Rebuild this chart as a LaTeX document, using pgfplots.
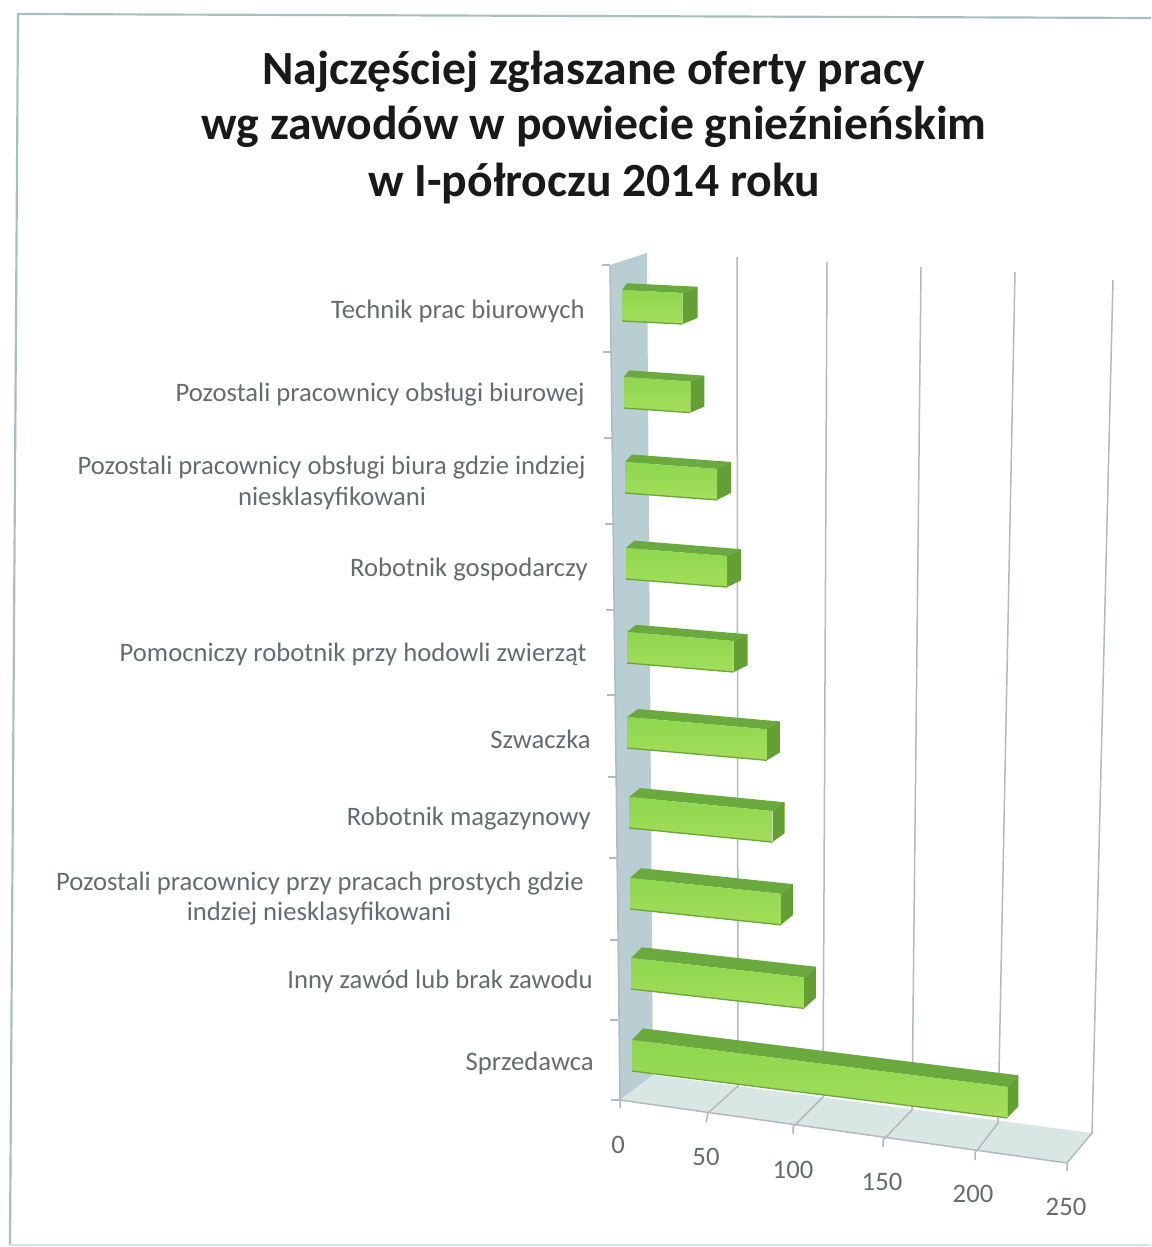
\documentclass[border=0pt]{standalone}
\usepackage{fontspec}
\setmainfont{Carlito}
\usepackage{pgfplots}
\pgfplotsset{compat=1.18}

\definecolor{wallc}{HTML}{B9CED2}
\definecolor{floorc}{HTML}{D8E7E3}
\definecolor{gridc}{HTML}{B3B9BC}
\definecolor{framec}{HTML}{A8BFBD}
\definecolor{labelc}{HTML}{666C6E}
\definecolor{barT}{HTML}{8FD64F}
\definecolor{barB}{HTML}{A3DE5A}
\definecolor{barTop}{HTML}{69A93D}
\definecolor{barEnd}{HTML}{639F33}
\definecolor{barLine}{HTML}{6AA63A}

% one image pixel in pt
\def\ux{0.6}

\pgfplotsset{
  page/.style={
    hide axis, scale only axis, clip=false, y dir=reverse,
    width=1151*\ux pt, height=1247*\ux pt, ymin=0, ymax=1247,
    at={(0,0)}, anchor=south west
  },
  frameline/.style={draw=gridc, line width=0.9pt, forget plot}
}

% value, left x, top y, slope, back offset left, back offset right, back rise (px)
\newcommand{\hbarbox}[7]{%
  \pgfmathsetmacro\vL{#5/1.84}%
  \pgfmathsetmacro\vE{#1+#6/1.84}%
  \pgfmathsetmacro\yT{#3}%
  \pgfmathsetmacro\yB{#3+31}%
  \pgfmathsetmacro\yK{#3-#7}%
  \pgfmathsetmacro\yKB{#3+31-#7}%
  \addplot[draw=none, fill=barTop, xshift={(#2-620)*\ux pt}, yshift={#4*620*\ux pt}, yslant={-#4}]
    coordinates {(0,\yT) (\vL,\yK) (\vE,\yK) (#1,\yT)};
  \addplot[draw=none, fill=barEnd, xshift={(#2-620)*\ux pt}, yshift={#4*620*\ux pt}, yslant={-#4}]
    coordinates {(#1,\yT) (\vE,\yK) (\vE,\yKB) (#1,\yB)};
  \addplot[draw=none, top color=barT, bottom color=barB, xshift={(#2-620)*\ux pt}, yshift={#4*620*\ux pt}, yslant={-#4}]
    coordinates {(0,\yT) (#1,\yT) (#1,\yB) (0,\yB)};
  \addplot[draw=barLine, line width=0.8pt, xshift={(#2-620)*\ux pt}, yshift={#4*620*\ux pt}, yslant={-#4}]
    coordinates {(0,\yB) (#1,\yB)};
}

\begin{document}
\begin{tikzpicture}
\useasboundingbox (0,0) rectangle (1151*\ux pt,1247*\ux pt);

% backdrop in image pixels: frame, wall, floor, grid, texts
\begin{axis}[page, xmin=0, xmax=1151]
\addplot[draw=framec, line width=1.3pt] coordinates {(1151,18) (18,14) (10,1245)};
\addplot[draw=framec!45, line width=1.3pt] coordinates {(10,1245) (1151,1245)};
\addplot[draw=none, fill=wallc] coordinates {(610,265) (647,253) (653,1075) (620,1100)};
\addplot[draw=none, fill=floorc] coordinates {(620,1100) (653,1075) (1092,1133) (1067,1163)};
% back wall grid
\addplot[frameline] coordinates {(737,257) (738,1086) (708,1113) (706,1122)};
\addplot[frameline] coordinates {(827,262) (823,1097) (793,1127) (793,1134)};
\addplot[frameline] coordinates {(921,267) (912,1110) (883,1140) (883,1147)};
\addplot[frameline] coordinates {(1015,272) (998,1123) (975,1153) (975,1160)};
\addplot[frameline] coordinates {(1113,280) (1092,1133) (1067,1163) (1067,1171)};
% floor edge and y ticks
\addplot[frameline] coordinates {(620,1108) (620,1100) (1067,1163)};
\addplot[frameline] coordinates {(610,265) (620,1100)};
\addplot[frameline] coordinates {(602,265) (610,265)};
\addplot[frameline] coordinates {(603,352) (611,352)};
\addplot[frameline] coordinates {(604,438) (612,438)};
\addplot[frameline] coordinates {(605,524) (613,524)};
\addplot[frameline] coordinates {(606,610) (614,610)};
\addplot[frameline] coordinates {(607,695) (615,695)};
\addplot[frameline] coordinates {(608,777) (616,777)};
\addplot[frameline] coordinates {(609,858) (617,858)};
\addplot[frameline] coordinates {(610,940) (618,940)};
\addplot[frameline] coordinates {(610,1020) (618,1020)};
\addplot[frameline] coordinates {(611,1100) (620,1100)};

% title
\tikzset{ttl/.style={anchor=base, font=\fontsize{28.6}{28.6}\selectfont\bfseries, text=black!90},
  cat/.style={anchor=east, inner sep=0pt, font=\fontsize{16}{16}\selectfont, text=labelc},
  num/.style={anchor=center, inner sep=0pt, font=\fontsize{16}{16}\selectfont, text=labelc}}
\node[ttl] at (axis cs:594,85) {Najczęściej zgłaszane oferty pracy};
\node[ttl] at (axis cs:594,140) {wg zawodów w powiecie gnieźnieńskim};
\node[ttl] at (axis cs:594,197) {w I-półroczu 2014 roku};

% category labels
\node[cat] at (axis cs:585,311) {Technik prac biurowych};
\node[cat] at (axis cs:585,395) {Pozostali pracownicy obsługi biurowej};
\node[cat] at (axis cs:586,468) {Pozostali pracownicy obsługi biura gdzie indziej};
\node[num] at (axis cs:332,498) {niesklasyfikowani};
\node[cat] at (axis cs:588,570) {Robotnik gospodarczy};
\node[cat] at (axis cs:587,654) {Pomocniczy robotnik przy hodowli zwierząt};
\node[cat] at (axis cs:591,739) {Szwaczka};
\node[cat] at (axis cs:591,819) {Robotnik magazynowy};
\node[cat] at (axis cs:584,884) {Pozostali pracownicy przy pracach prostych gdzie};
\node[num] at (axis cs:319,914) {indziej niesklasyfikowani};
\node[cat] at (axis cs:593,981) {Inny zawód lub brak zawodu};
\node[cat] at (axis cs:594,1063) {Sprzedawca};

% value labels
\node[num] at (axis cs:618,1145) {0};
\node[num] at (axis cs:706,1157) {50};
\node[num] at (axis cs:793,1170) {100};
\node[num] at (axis cs:882,1182) {150};
\node[num] at (axis cs:973,1194) {200};
\node[num] at (axis cs:1066,1207) {250};
\end{axis}

% bars: x is the value, 1.84 image pixels per unit, 0 at pixel 620
\begin{axis}[page, xmin=-336.96, xmax=288.59]
\hbarbox{33}{622}{290}{0.05}{5}{15}{7}
\hbarbox{36}{624}{377}{0.07}{5}{14}{7}
\hbarbox{50}{625}{462}{0.075}{7}{14}{8}
\hbarbox{55}{626}{548}{0.08}{8}{14}{8}
\hbarbox{58}{627}{632}{0.085}{9}{14}{8}
\hbarbox{76}{627}{717}{0.088}{11}{13}{9}
\hbarbox{78}{629}{797}{0.098}{11}{12}{10}
\hbarbox{82}{630}{878}{0.105}{11}{12}{11}
\hbarbox{94}{631}{958}{0.112}{11}{12}{12}
\hbarbox{204}{632}{1040}{0.125}{11}{11}{13}
\end{axis}
\end{tikzpicture}
\end{document}
